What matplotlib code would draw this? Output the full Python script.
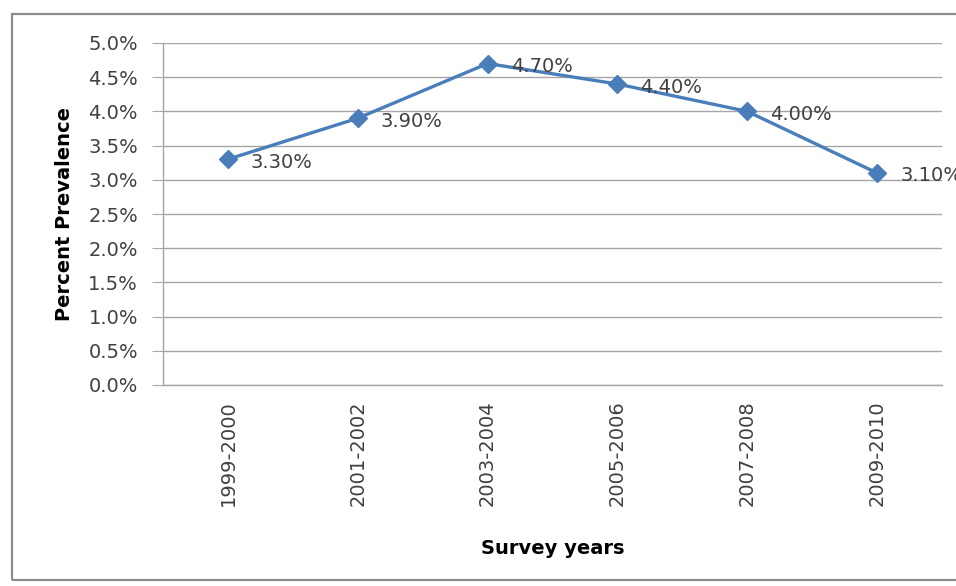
import matplotlib
matplotlib.use("Agg")
import matplotlib.pyplot as plt
from matplotlib.patches import Rectangle
from matplotlib.ticker import FuncFormatter, MultipleLocator

plt.rcParams["font.family"] = ["DejaVu Sans"]

PERIODS = ["1999-2000", "2001-2002", "2003-2004", "2005-2006", "2007-2008", "2009-2010"]
PREVALENCE = [3.3, 3.9, 4.7, 4.4, 4.0, 3.1]

LINE_BLUE = "#4a7ebb"
GRID_GREY = "#a6a6a6"
TEXT_DARK = "#404040"
FS = 14

W, H = 956, 586
fig = plt.figure(figsize=(W / 100, H / 100), dpi=100)
fig.patch.set_facecolor("white")

# chart frame, runs off the right edge
fig.patches.append(Rectangle((12 / W, 6 / H), 1.0, (586 - 14 - 6) / H,
                             transform=fig.transFigure, fill=False,
                             edgecolor="#8c8c8c", linewidth=1.6))

ax = fig.add_axes([163 / W, 1 - 385 / H, (942 - 163) / W, (385 - 43) / H])

x = list(range(len(PERIODS)))
ax.plot(x, PREVALENCE, color=LINE_BLUE, linewidth=2.4, marker="D",
        markersize=9, markerfacecolor=LINE_BLUE, markeredgecolor=LINE_BLUE, zorder=3)

for xi, v in zip(x, PREVALENCE):
    ax.annotate(f"{v:.2f}%", (xi, v), xytext=(23, -3), textcoords="offset pixels",
                ha="left", va="center", fontsize=FS, color=TEXT_DARK,
                annotation_clip=False, zorder=4)

ax.set_xlim(-0.5, len(PERIODS) - 0.5)
ax.set_ylim(0, 5.0)
ax.yaxis.set_major_locator(MultipleLocator(0.5))
ax.yaxis.set_major_formatter(FuncFormatter(lambda v, _: f"{v:.1f}%"))
ax.grid(axis="y", color=GRID_GREY, linewidth=1.0)
ax.set_axisbelow(True)

ax.set_xticks(x)
ax.set_xticklabels(PERIODS, rotation=90, fontsize=FS, color=TEXT_DARK)
ax.tick_params(axis="x", length=0, pad=11)
ax.tick_params(axis="y", length=8, color=GRID_GREY, labelsize=FS,
               labelcolor=TEXT_DARK, pad=10)

for side in ("top", "right"):
    ax.spines[side].set_visible(False)
for side in ("left", "bottom"):
    ax.spines[side].set_color(GRID_GREY)
    ax.spines[side].set_linewidth(1.0)

ax.set_ylabel("Percent Prevalence", fontsize=FS, fontweight="bold", labelpad=10)
ax.set_xlabel("Survey years", fontsize=FS, fontweight="bold", labelpad=24)

fig.savefig("out.png", dpi=100)
